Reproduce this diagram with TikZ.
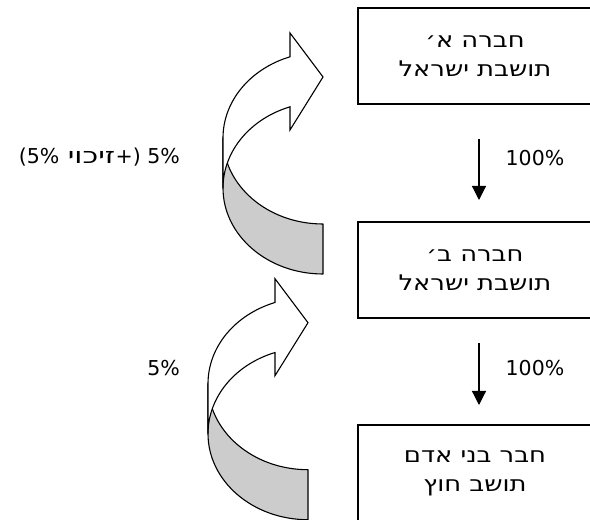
\documentclass[tikz,border=0pt]{standalone}
\usepackage{fontspec}
\setmainfont{DejaVu Sans}
\newfontfamily\heb[Script=Hebrew,FakeStretch=1.2]{DejaVu Sans}
\newfontfamily\hebwide[Script=Hebrew,FakeStretch=1.35]{DejaVu Sans}
\TeXXeTstate=1
\usetikzlibrary{arrows.meta}
\tikzset{
  curvarrow/.pic={
    \path[back] (-100,0) arc[start angle=180,end angle=270,x radius=100,y radius=86]
      -- (0,-136) arc[start angle=270,end angle=180,x radius=100,y radius=86] -- cycle;
    \path[front] (-33,81.2) arc[start angle=109.27,end angle=180,x radius=100,y radius=86]
      -- (-100,-50) arc[start angle=180,end angle=109.27,x radius=100,y radius=86]
      -- (-33,8) -- (0,61) -- (-33,105) -- cycle;
  }
}
\begin{document}
\begin{tikzpicture}[x=1pt,y=1pt,
  box/.style={draw, fill=white, line width=1.4pt, minimum width=234pt, minimum height=96pt,
    align=center, inner sep=0pt, font=\heb\fontsize{21.5}{29}\selectfont},
  lbl/.style={font=\fontsize{20.5}{24}\selectfont, inner sep=0pt},
  heblbl/.style={font=\hebwide\fontsize{22}{24}\selectfont, inner sep=0pt},
  down/.style={line width=1.2pt, -{Triangle[width=14pt,length=14pt]}},
  back/.style={fill=black!20, draw, line width=1.1pt, line join=round},
  front/.style={fill=white, draw, line width=1.1pt, line join=miter}]
\useasboundingbox (0,0) rectangle (590,520);

% boxes
\node[box] (b1) at (475,464) {\beginR חברה א׳\endR\\\beginR תושבת ישראל\endR};
\node[box] (b2) at (475,250) {\beginR חברה ב׳\endR\\\beginR תושבת ישראל\endR};
\node[box] (b3) at (475,47) {\beginR חבר בני אדם\endR\\\beginR תושב חוץ\endR};

% straight arrows
\coordinate (d1s) at (479,381);
\coordinate (d1e) at (479,320);
\draw[down] (d1s) -- (d1e);
\node[lbl] (p1) at (535,362) {100\%};

\coordinate (d2s) at (479,177);
\coordinate (d2e) at (479,115);
\draw[down] (d2s) -- (d2e);
\node[lbl] (p2) at (535,152) {100\%};

% curved arrows
\pic (c1) at (323,382) {curvarrow};
\pic (c2) at (308,136.3) {curvarrow};

% left labels
\node[lbl, anchor=base east] (l1c) at (180,356) {+) 5\%};
\node[heblbl, anchor=base east] (l1b) at (l1c.base west) {\beginR זיכוי\endR};
\node[lbl, anchor=base east] (l1a) at ([xshift=-8pt]l1b.base west) {(5\%};
\node[lbl, anchor=east] (l2) at (180,152) {5\%};
\end{tikzpicture}
\end{document}
